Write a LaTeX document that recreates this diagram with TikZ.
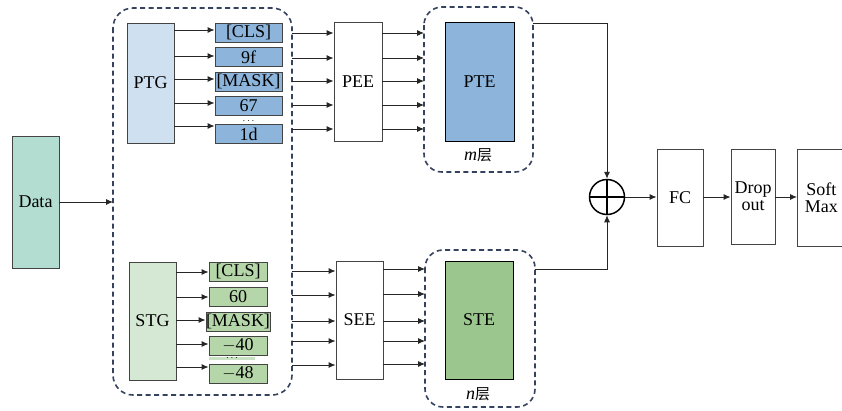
\documentclass[tikz,border=0pt]{standalone}
\usepackage{fontspec}
\setmainfont{Liberation Serif}
\newfontfamily\cjk{Noto Sans CJK SC}
\usetikzlibrary{arrows.meta,calc}
\definecolor{dashc}{HTML}{34425E}
\definecolor{ptgc}{HTML}{CFE0F1}
\definecolor{tokb}{HTML}{8DB4DA}
\definecolor{stgc}{HTML}{D5E8D4}
\definecolor{tokg}{HTML}{B5D6A8}
\definecolor{stec}{HTML}{9BC68E}
\definecolor{datac}{HTML}{B2DDD0}
\definecolor{linec}{HTML}{444444}
\tikzset{
  box/.style={draw=linec,line width=0.9pt,inner sep=0pt,font=\fontsize{18}{19}\selectfont},
  grp/.style={draw=dashc,line width=1.6pt,dash pattern=on 5pt off 3.5pt,rounded corners=20pt},
  arr/.style={-{Latex[length=7pt,width=6pt]},line width=0.9pt,draw=black!85},
  dots/.style={font=\fontsize{10}{10}\selectfont,inner sep=0pt,text height=1.5pt,text depth=0pt},
}
\begin{document}
\begin{tikzpicture}[x=1pt,y=-1pt]
\useasboundingbox (0,0) rectangle (842,410);
% groups
\draw[grp] (113,8) rectangle (292,395);
\draw[grp,rounded corners=18pt] (424,7) rectangle (533,172);
\draw[grp,rounded corners=18pt] (425,250) rectangle (535,407);
\coordinate (gl) at (113,202);
% data
\node[box,fill=datac,minimum width=47pt,minimum height=132pt] (data) at (35.5,202) {Data};
\draw[arr] (data.east) -- (gl);
% PTG / STG
\node[box,fill=ptgc,minimum width=47pt,minimum height=120pt] (ptg) at (150.5,83) {PTG};
\node[box,fill=stgc,minimum width=47pt,minimum height=118pt] (stg) at (152.5,321) {STG};
% tokens top
\foreach \n/\t/\yy in {a/{[CLS]}/32.5,b/9f/57,c/{[MASK]}/81.5,d/67/105.5,e/1d/134}{
  \node[box,fill=tokb,minimum width=67pt,minimum height=19pt] (t\n) at (248.5,\yy) {\t};
}
\node[dots] (tdots) at (248.5,122.5) {$\cdots$};
% tokens bottom
\node[box,fill=stgc!60!tokg,draw=none,minimum width=46pt,minimum height=3pt] (gbar) at (232,358.5) {};
\foreach \n/\t/\yy in {a/{[CLS]}/271.5,b/60/296.5,c/{[MASK]}/321.5,d/{$-$40}/345.5,e/{$-$48}/373.5}{
  \node[box,fill=tokg,minimum width=58pt,minimum height=19pt] (s\n) at (238,\yy) {\t};
}
\node[dots] (sdots) at (232,359.5) {$\cdots$};
% generator arrows
\foreach \n/\yy in {a/30,b/56,c/79,d/103,e/126}{
  \draw[arr] (ptg.east |- 0,\yy) -- (t\n.west |- 0,\yy);
}
\foreach \n/\yy in {a/272,b/297,c/320,d/344,e/367}{
  \draw[arr] (stg.east |- 0,\yy) -- (s\n.west |- 0,\yy);
}
% PEE / SEE
\node[box,fill=white,minimum width=48pt,minimum height=119pt] (pee) at (358,81.5) {PEE};
\node[box,fill=white,minimum width=47pt,minimum height=118pt] (see) at (359.5,320) {SEE};
\node[box,fill=tokb,draw=black,minimum width=69pt,minimum height=119pt] (pte) at (479.5,81.5) {PTE};
\node[box,fill=stec,draw=black,minimum width=68pt,minimum height=118pt] (ste) at (479,320) {STE};
\node[font=\fontsize{18}{19}\selectfont,inner sep=0pt] (ml) at (478,155) {\textit{m}{\cjk\fontsize{15}{16}\selectfont 层}};
\node[font=\fontsize{18}{19}\selectfont,inner sep=0pt] (nl) at (478,394) {\textit{n}{\cjk\fontsize{15}{16}\selectfont 层}};
\coordinate (gr) at (292,0);
\coordinate (pl) at (424,0);
\coordinate (sl) at (425,0);
\foreach \yy in {33,58,81,105,129}{
  \draw[arr] (gr |- 0,\yy) -- (pee.west |- 0,\yy);
  \draw[arr] (pee.east |- 0,\yy) -- (pl |- 0,\yy);
}
\foreach \yy in {271,295,321,341,365}{
  \draw[arr] (gr |- 0,\yy) -- (see.west |- 0,\yy);
}
\foreach \yy in {269,294,321,341,364}{
  \draw[arr] (see.east |- 0,\yy) -- (sl |- 0,\yy);
}
% sum
\node[circle,draw=black,line width=1.5pt,minimum size=35pt,inner sep=0pt] (sum) at (607,197) {};
\draw[line width=1.5pt] (sum.north) -- (sum.south) (sum.west) -- (sum.east);
\coordinate (po) at (533,23);
\coordinate (so) at (535,269);
\draw[arr] (po) -- (sum.north |- po) -- (sum.north);
\draw[arr] (so) -- (sum.south |- so) -- (sum.south);
% output
\node[box,fill=white,minimum width=46pt,minimum height=97pt] (fc) at (680,197.5) {FC};
\node[box,fill=white,minimum width=44pt,minimum height=95pt,align=center,font=\fontsize{18}{17}\selectfont] (drop) at (753,196.5) {Drop\\out};
\node[box,fill=white,minimum width=48pt,minimum height=97pt,align=center,font=\fontsize{18}{17}\selectfont,anchor=west] (soft) at (797,197.5) {Soft\\Max};
\draw[arr] (sum.east) -- (fc.west |- sum.east);
\draw[arr] (fc.east |- 0,197) -- (drop.west |- 0,197);
\draw[arr] (drop.east |- 0,197) -- (soft.west |- 0,197);
\end{tikzpicture}
\end{document}
